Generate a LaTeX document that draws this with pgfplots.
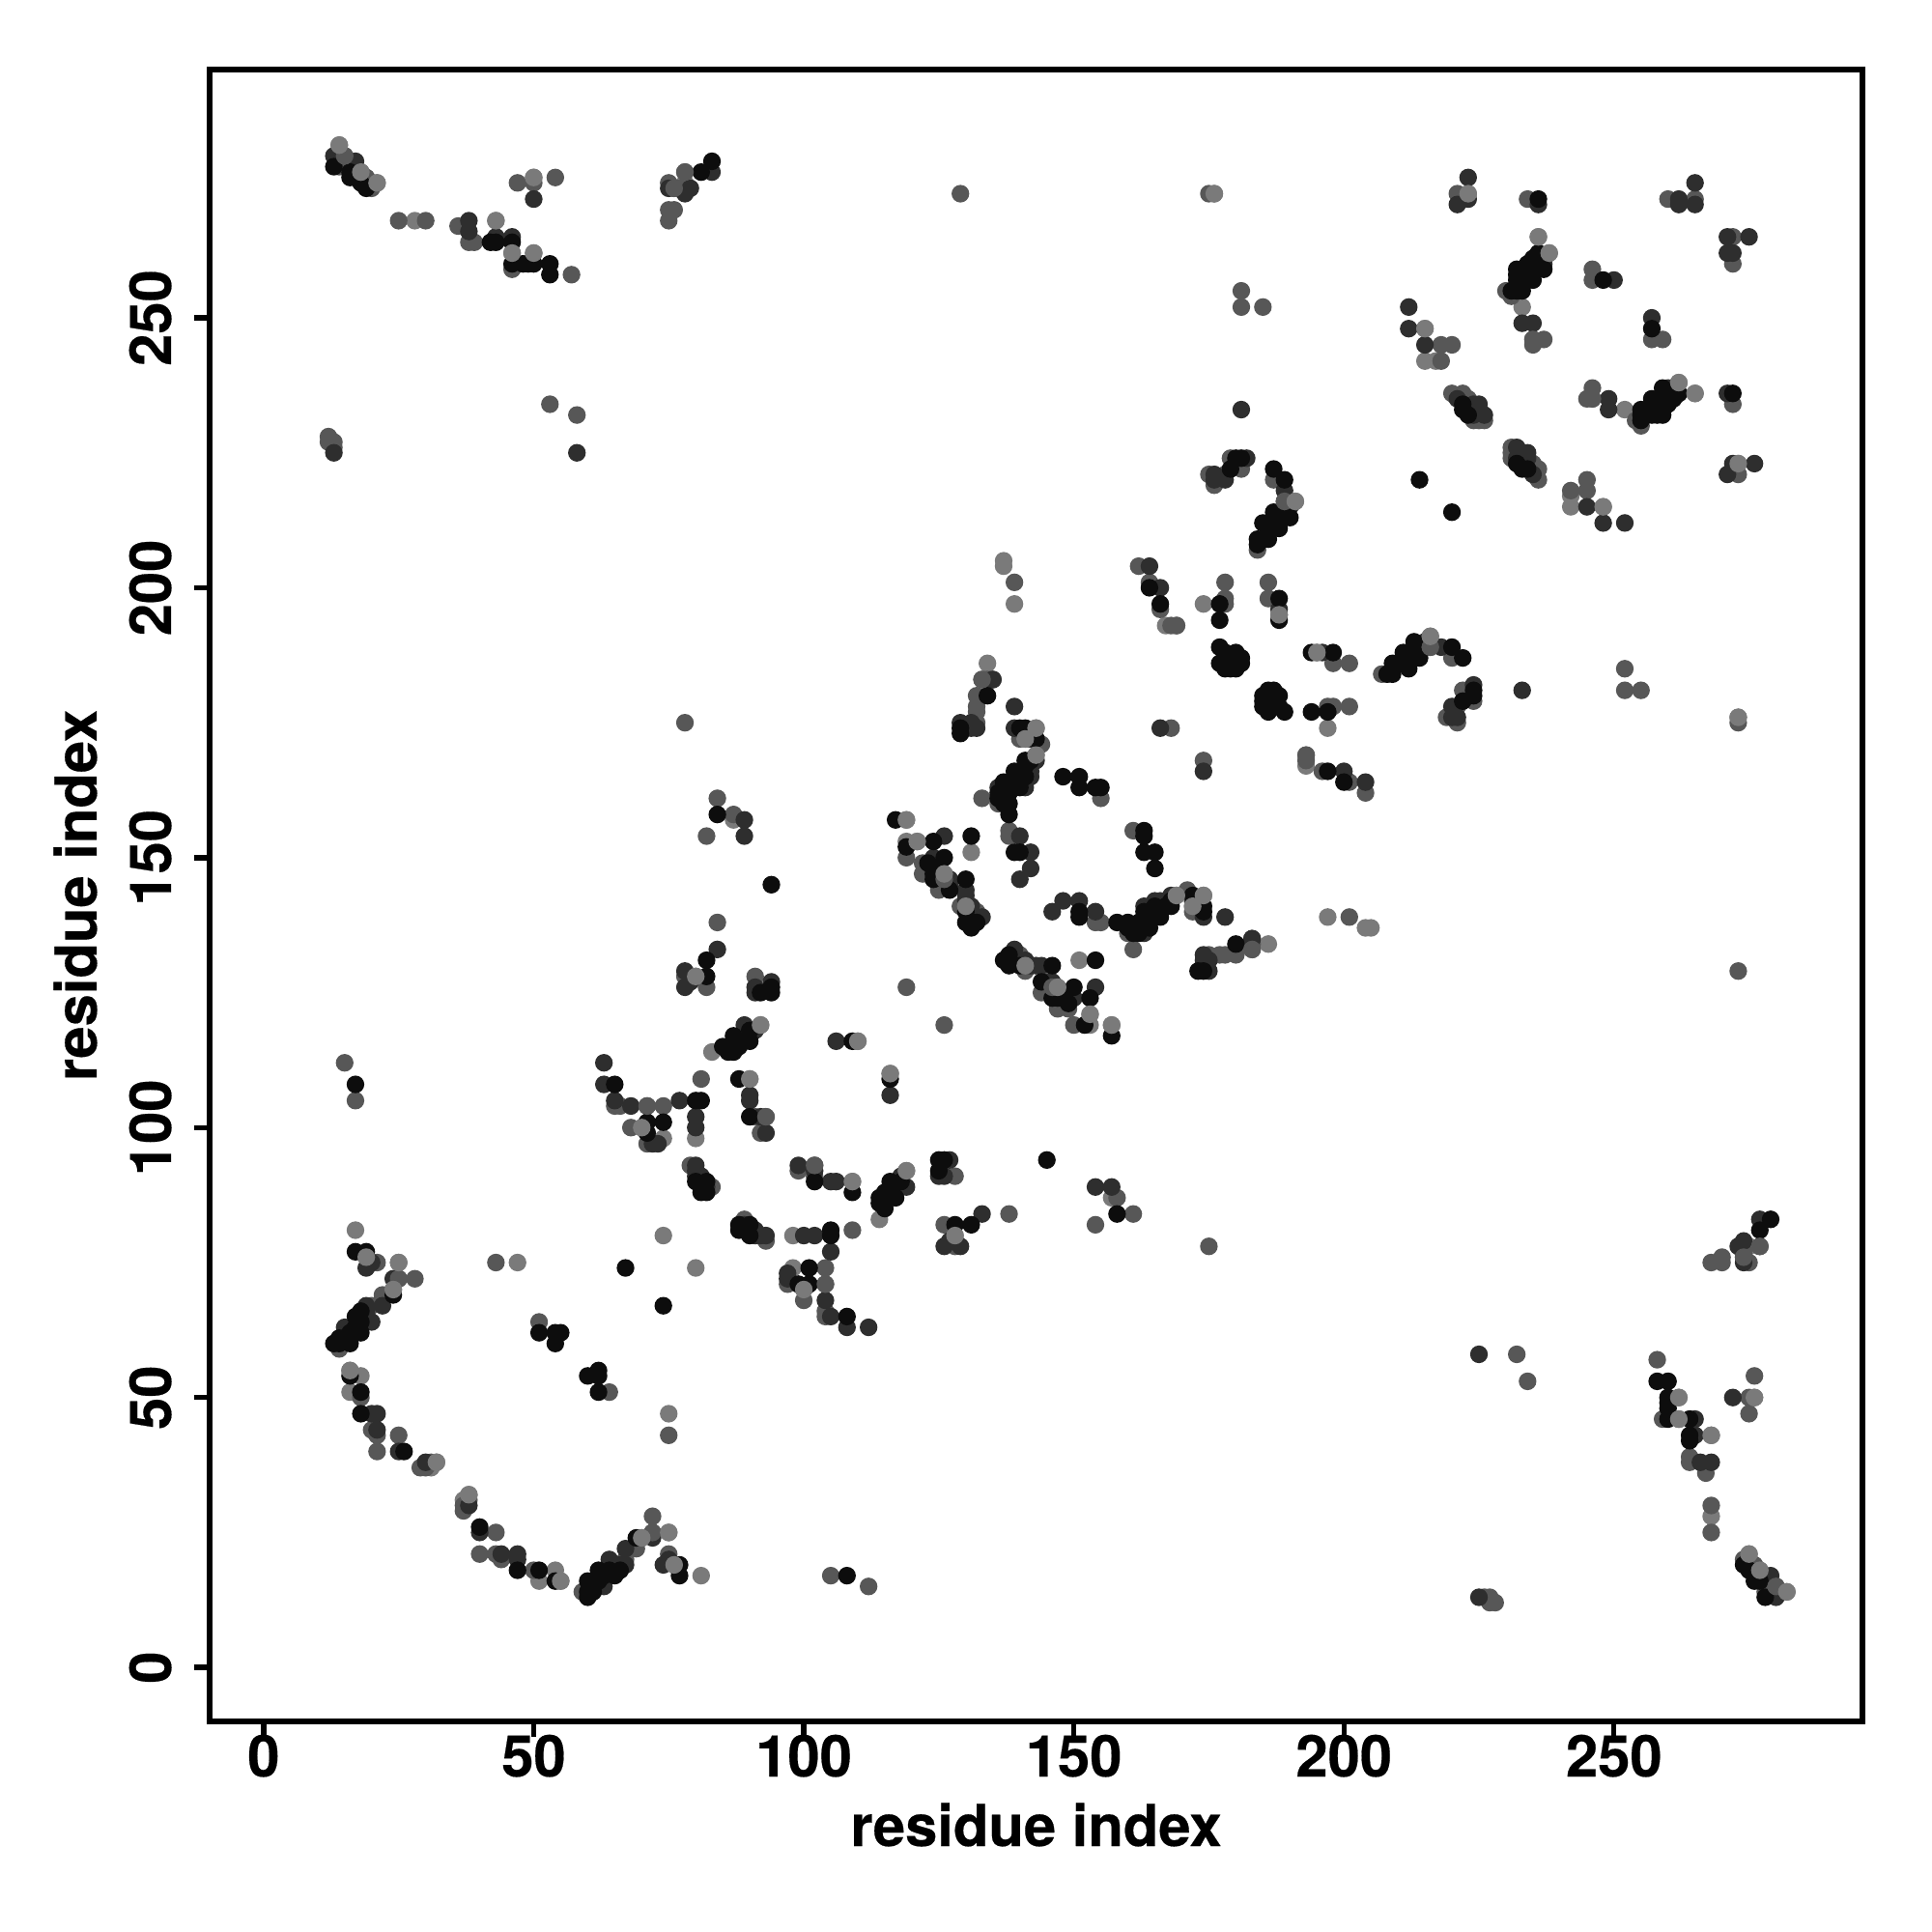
\documentclass[border=0pt]{standalone}
\usepackage{pgfplots}
\usepackage{pgfplotstable}
\usepackage{fontspec}
\setmainfont[BoldFeatures={FakeBold=0.3}]{TeX Gyre Heros}
\pgfplotsset{compat=1.18}
\pgfplotstableread{
a b
38 32
37 31
51 16
54 18
55 16
70 24
75 25
76 19
81 17
75 47
80 74
157 87
128 80
114 83
119 92
116 110
98 80
100 70
98 74
109 90
186 134
174 143
172 141
169 143
157 119
153 119
153 121
151 131
141 130
147 126
193 167
197 139
204 137
205 137
195 188
216 191
197 174
273 176
273 223
248 215
242 215
242 217
265 236
262 238
252 233
282 14
277 18
275 21
268 28
268 43
262 46
262 50
276 50
275 78
}\tl
\pgfplotstableread{
a b
38 31
37 30
37 29
43 25
40 21
43 21
44 20
50 18
59 14
67 20
69 22
72 25
72 28
75 21
105 17
112 15
64 51
75 43
161 84
158 87
154 82
138 84
128 78
126 82
128 91
104 66
104 71
104 74
109 81
100 68
97 71
102 93
102 91
99 92
93 79
89 83
104 65
183 134
183 133
180 132
178 132
177 132
175 132
174 130
172 140
171 144
161 133
160 136
154 138
155 138
161 155
150 119
147 123
146 126
145 125
141 129
140 132
139 132
144 125
147 122
149 122
126 119
174 168
193 169
193 168
196 166
201 164
204 162
201 139
198 186
201 186
207 184
216 189
220 187
197 178
198 178
201 178
222 181
224 179
221 178
219 176
221 175
273 175
273 221
272 222
272 234
272 260
272 265
255 181
252 181
252 185
245 218
245 220
242 218
255 230
254 231
246 235
246 237
245 235
259 246
257 246
236 220
236 222
231 225
231 226
231 224
235 223
280 15
279 16
278 14
276 19
274 20
268 25
268 30
267 36
264 38
264 39
259 46
258 57
275 47
275 50
276 54
274 76
277 78
274 77
275 75
270 76
268 75
270 75
234 53
232 58
228 12
227 13
227 12
226 13
273 129
175 78
}\tm
\pgfplotstableread{
a b
38 30
40 25
44 21
47 21
47 20
63 15
64 20
65 19
66 19
67 19
67 22
72 24
74 19
75 20
157 89
154 89
133 84
128 79
127 79
126 78
129 78
126 91
125 91
127 94
118 91
119 89
116 106
112 63
108 63
105 65
104 68
105 77
102 80
100 80
97 72
97 73
106 90
105 90
102 92
99 93
93 80
91 80
91 81
89 82
90 81
92 80
135 183
183 135
175 129
175 131
174 131
174 132
178 139
174 139
172 142
168 143
166 142
151 142
148 142
146 140
154 140
165 142
163 141
163 136
154 126
150 124
146 127
144 130
142 130
143 130
139 133
141 131
145 127
174 166
200 166
204 164
214 188
215 189
215 190
214 189
218 189
196 188
224 182
221 176
220 176
220 178
276 223
271 221
272 223
271 236
272 262
271 262
271 265
275 265
252 212
248 212
245 215
260 237
249 233
249 235
257 250
261 237
235 221
234 224
234 225
232 226
232 224
233 181
280 13
279 17
268 38
266 38
265 43
265 46
272 50
274 75
273 78
274 79
277 83
225 58
225 13
}\td
\pgfplotstableread{
a b
40 26
47 18
51 18
54 16
60 13
60 14
60 16
61 14
61 15
62 18
62 16
62 17
63 17
64 18
65 17
66 18
69 24
77 19
77 17
108 17
62 51
60 54
62 55
62 54
74 67
158 84
145 94
131 82
128 82
125 94
125 92
126 94
118 90
116 90
116 88
117 87
115 88
115 86
114 87
114 86
115 85
116 109
108 65
105 80
105 81
101 71
99 71
101 74
109 88
102 90
90 80
88 81
88 82
90 82
180 134
174 129
173 129
174 140
174 141
172 143
168 142
168 141
166 139
164 140
164 137
162 138
161 136
158 138
151 140
165 139
163 138
167 141
165 141
163 140
163 137
160 137
160 138
162 136
165 148
165 151
163 151
163 154
163 155
157 117
152 119
153 124
154 131
150 126
149 123
147 124
144 127
146 130
140 130
138 131
138 132
137 131
138 130
148 124
148 125
146 124
151 139
197 166
200 164
189 177
187 178
185 179
187 181
186 179
186 177
186 181
185 180
185 178
188 178
188 180
194 188
198 188
208 184
209 186
209 184
211 188
210 186
211 186
212 185
212 188
213 187
213 188
214 187
213 190
220 189
222 187
194 177
197 177
224 180
222 179
224 181
272 236
262 236
259 237
260 235
260 234
257 235
258 232
258 233
256 233
255 231
255 233
257 248
257 234
257 232
259 234
259 232
255 232
261 235
233 222
232 223
234 222
220 214
278 13
277 16
276 16
275 18
274 19
264 42
264 43
264 46
260 46
260 48
260 50
260 49
260 53
258 53
277 81
279 83
}\tk
\pgfplotstableread{
a b
216 189
277 78
72 25
193 169
280 15
274 76
183 133
146 126
102 93
104 71
246 235
}\ttm
\pgfplotstableread{
a b
216 191
265 236
262 238
174 143
119 92
157 119
153 121
147 126
282 14
38 32
76 19
55 16
128 80
116 110
275 21
277 18
195 188
273 223
273 176
262 50
262 46
276 50
248 215
100 70
141 130
268 43
169 143
172 141
109 90
75 25
70 24
}\ttl
\begin{document}
\begin{tikzpicture}
\path[use as bounding box] (-21.7mm,-21.8mm) rectangle (178.3mm,178.2mm);
\begin{axis}[
  at={(0,0)},anchor=south west,
  width=171.1mm,height=171mm,scale only axis,
  xmin=-10,xmax=296,ymin=-10,ymax=296,
  axis line style={line width=1.5pt,black},
  tick style={line width=1.5pt,black},
  tick align=outside,
  major tick length=1.6mm,
  xtick={0,50,100,150,200,250},
  ytick={0,50,100,150,200,250},
  xtick pos=bottom,ytick pos=left,
  /pgf/number format/assume math mode=true,
  ticklabel style={font=\fontsize{17}{20}\selectfont\bfseries},
  xticklabel style={anchor=base,yshift=-4.1mm},
  yticklabel style={rotate=90,anchor=base,yshift=2.4mm},
  label style={font=\fontsize{17}{20}\selectfont\bfseries},
  xlabel={residue index},ylabel={residue index},
  xlabel style={at={(rel axis cs:0.5,0)},anchor=base,yshift=-12.9mm},
  ylabel style={at={(rel axis cs:0,0.5)},anchor=base,rotate=0,yshift=11.7mm},
  clip=false,
]
\addplot[only marks,mark=*,mark size=2.4pt,color=black!52] table[x=a,y=b] {\tl};
\addplot[only marks,mark=*,mark size=2.4pt,color=black!52] table[x=b,y=a] {\tl};
\addplot[only marks,mark=*,mark size=2.4pt,color=black!66] table[x=a,y=b] {\tm};
\addplot[only marks,mark=*,mark size=2.4pt,color=black!66] table[x=b,y=a] {\tm};
\addplot[only marks,mark=*,mark size=2.4pt,color=black!82] table[x=a,y=b] {\td};
\addplot[only marks,mark=*,mark size=2.4pt,color=black!82] table[x=b,y=a] {\td};
\addplot[only marks,mark=*,mark size=2.4pt,color=black!95] table[x=a,y=b] {\tk};
\addplot[only marks,mark=*,mark size=2.4pt,color=black!95] table[x=b,y=a] {\tk};
\addplot[only marks,mark=*,mark size=2.4pt,color=black!66] table[x=a,y=b] {\ttm};
\addplot[only marks,mark=*,mark size=2.4pt,color=black!66] table[x=b,y=a] {\ttm};
\addplot[only marks,mark=*,mark size=2.4pt,color=black!52] table[x=a,y=b] {\ttl};
\addplot[only marks,mark=*,mark size=2.4pt,color=black!52] table[x=b,y=a] {\ttl};
\end{axis}
\end{tikzpicture}
\end{document}
